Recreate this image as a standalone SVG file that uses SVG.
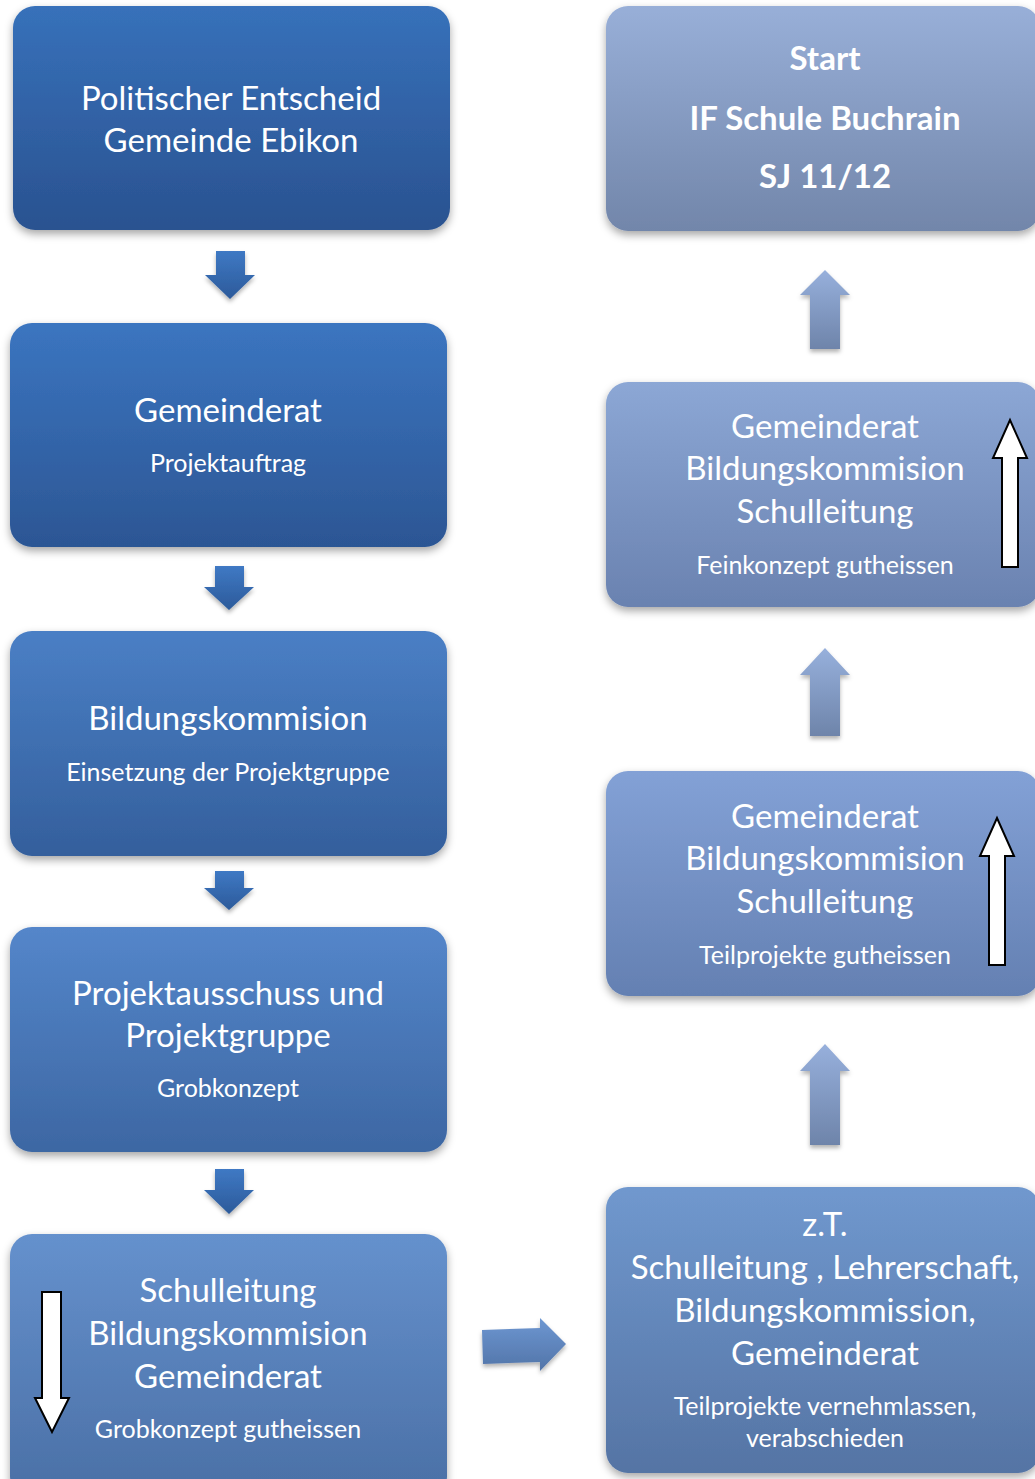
<svg xmlns="http://www.w3.org/2000/svg" width="1035" height="1479" viewBox="0 0 1035 1479">
<defs>
<filter id="sh" x="-10%" y="-10%" width="120%" height="130%">
<feDropShadow dx="0" dy="4" stdDeviation="4" flood-color="#000" flood-opacity="0.35"/>
</filter>
<linearGradient id="gL1" x1="0" y1="0" x2="0" y2="1"><stop offset="0" stop-color="#3771ba"/><stop offset="1" stop-color="#2a5290"/></linearGradient>
<linearGradient id="gL2" x1="0" y1="0" x2="0" y2="1"><stop offset="0" stop-color="#3b75c0"/><stop offset="1" stop-color="#2c5694"/></linearGradient>
<linearGradient id="gL3" x1="0" y1="0" x2="0" y2="1"><stop offset="0" stop-color="#4a7fc5"/><stop offset="1" stop-color="#345f9c"/></linearGradient>
<linearGradient id="gL4" x1="0" y1="0" x2="0" y2="1"><stop offset="0" stop-color="#5486ca"/><stop offset="1" stop-color="#3d67a3"/></linearGradient>
<linearGradient id="gL5" x1="0" y1="0" x2="0" y2="1"><stop offset="0" stop-color="#6591cd"/><stop offset="1" stop-color="#4a6fa5"/></linearGradient>
<linearGradient id="gR1" x1="0" y1="0" x2="0" y2="1"><stop offset="0" stop-color="#98afd8"/><stop offset="1" stop-color="#7286aa"/></linearGradient>
<linearGradient id="gR2" x1="0" y1="0" x2="0" y2="1"><stop offset="0" stop-color="#8ca7d5"/><stop offset="1" stop-color="#6a82b0"/></linearGradient>
<linearGradient id="gR3" x1="0" y1="0" x2="0" y2="1"><stop offset="0" stop-color="#83a1d6"/><stop offset="1" stop-color="#6480b2"/></linearGradient>
<linearGradient id="gR4" x1="0" y1="0" x2="0" y2="1"><stop offset="0" stop-color="#7098ce"/><stop offset="1" stop-color="#5574a4"/></linearGradient>
<linearGradient id="gAD" x1="0" y1="0" x2="0" y2="1"><stop offset="0" stop-color="#3f79c4"/><stop offset="1" stop-color="#2c5a9a"/></linearGradient>
<linearGradient id="gAU" x1="0" y1="0" x2="0" y2="1"><stop offset="0" stop-color="#97b0dc"/><stop offset="1" stop-color="#6e84aa"/></linearGradient>
<linearGradient id="gAR" x1="0" y1="0" x2="0" y2="1"><stop offset="0" stop-color="#6d97d2"/><stop offset="1" stop-color="#5274a8"/></linearGradient>
<filter id="ash" x="-30%" y="-20%" width="160%" height="150%">
<feDropShadow dx="0" dy="3" stdDeviation="2" flood-color="#000" flood-opacity="0.3"/>
</filter>
</defs>
<style>
.box{filter:url(#sh)}
.t{font-family:Lato,"Open Sans","Liberation Sans",sans-serif;fill:#fff;text-anchor:middle}
.big{font-size:33px}
.small{font-size:25px}
.bold{font-weight:bold;font-size:33px}
.warr{fill:#fff;stroke:#000;stroke-width:2}
</style>

<g id="n1">
<rect class="box" x="13" y="6" width="437" height="224" rx="22" fill="url(#gL1)"/>
<text class="t big" x="231" y="110">Politischer Entscheid</text>
<text class="t big" x="231" y="152">Gemeinde Ebikon</text>
</g>
<g id="n2">
<rect class="box" x="10" y="323" width="437" height="224" rx="22" fill="url(#gL2)"/>
<text class="t big" x="228" y="422">Gemeinderat</text>
<text class="t small" x="228" y="472">Projektauftrag</text>
</g>
<g id="n3">
<rect class="box" x="10" y="631" width="437" height="225" rx="22" fill="url(#gL3)"/>
<text class="t big" x="228" y="730">Bildungskommision</text>
<text class="t small" x="228" y="781">Einsetzung der Projektgruppe</text>
</g>
<g id="n4">
<rect class="box" x="10" y="927" width="437" height="225" rx="22" fill="url(#gL4)"/>
<text class="t big" x="228" y="1005">Projektausschuss und</text>
<text class="t big" x="228" y="1047">Projektgruppe</text>
<text class="t small" x="228" y="1097">Grobkonzept</text>
</g>
<g id="n5">
<rect class="box" x="10" y="1234" width="437" height="265" rx="22" fill="url(#gL5)"/>
<text class="t big" x="228" y="1302">Schulleitung</text>
<text class="t big" x="228" y="1345">Bildungskommision</text>
<text class="t big" x="228" y="1388">Gemeinderat</text>
<text class="t small" x="228" y="1438">Grobkonzept gutheissen</text>
<polygon class="warr" points="42,1292 61,1292 61,1398 69,1398 52,1432 35,1398 42,1398"/>
</g>
<g id="n6">
<rect class="box" x="606" y="6" width="434" height="225" rx="22" fill="url(#gR1)"/>
<text class="t bold" x="825" y="70">Start</text>
<text class="t bold" x="825" y="130">IF Schule Buchrain</text>
<text class="t bold" x="825" y="188">SJ 11/12</text>
</g>
<g id="n7">
<rect class="box" x="606" y="382" width="434" height="225" rx="22" fill="url(#gR2)"/>
<text class="t big" x="825" y="438">Gemeinderat</text>
<text class="t big" x="825" y="480">Bildungskommision</text>
<text class="t big" x="825" y="523">Schulleitung</text>
<text class="t small" x="825" y="574">Feinkonzept gutheissen</text>
<polygon class="warr" points="1002,567 1018,567 1018,458 1027,458 1010,420 993,458 1002,458"/>
</g>
<g id="n8">
<rect class="box" x="606" y="771" width="434" height="225" rx="22" fill="url(#gR3)"/>
<text class="t big" x="825" y="828">Gemeinderat</text>
<text class="t big" x="825" y="870">Bildungskommision</text>
<text class="t big" x="825" y="913">Schulleitung</text>
<text class="t small" x="825" y="964">Teilprojekte gutheissen</text>
<polygon class="warr" points="989,965 1005,965 1005,856 1014,856 997,818 980,856 989,856"/>
</g>
<g id="n9">
<rect class="box" x="606" y="1187" width="434" height="286" rx="22" fill="url(#gR4)"/>
<text class="t big" x="825" y="1236">z.T.</text>
<text class="t big" x="825" y="1279">Schulleitung , Lehrerschaft,</text>
<text class="t big" x="825" y="1322">Bildungskommission,</text>
<text class="t big" x="825" y="1365">Gemeinderat</text>
<text class="t small" x="825" y="1415">Teilprojekte vernehmlassen,</text>
<text class="t small" x="825" y="1447">verabschieden</text>
</g>

<g id="connectors" filter="url(#ash)">
<polygon fill="url(#gAD)" points="216,251 245,251 245,275 255,275 230,299 205,275 216,275"/>
<polygon fill="url(#gAD)" points="215,566 244,566 244,587 254,587 229,610 204,587 215,587"/>
<polygon fill="url(#gAD)" points="215,871 244,871 244,888 254,888 229,910 204,888 215,888"/>
<polygon fill="url(#gAD)" points="215,1169 244,1169 244,1190 254,1190 229,1214 204,1190 215,1190"/>
<polygon fill="url(#gAR)" points="482,1330 540,1328 540,1318 566,1344 540,1371 540,1362 483,1364"/>
<polygon fill="url(#gAU)" points="810,349 840,349 840,295 850,295 825,270 800,295 810,295"/>
<polygon fill="url(#gAU)" points="810,736 840,736 840,675 850,675 825,648 800,675 810,675"/>
<polygon fill="url(#gAU)" points="810,1145 840,1145 840,1071 850,1071 825,1044 800,1071 810,1071"/>
</g>
</svg>
